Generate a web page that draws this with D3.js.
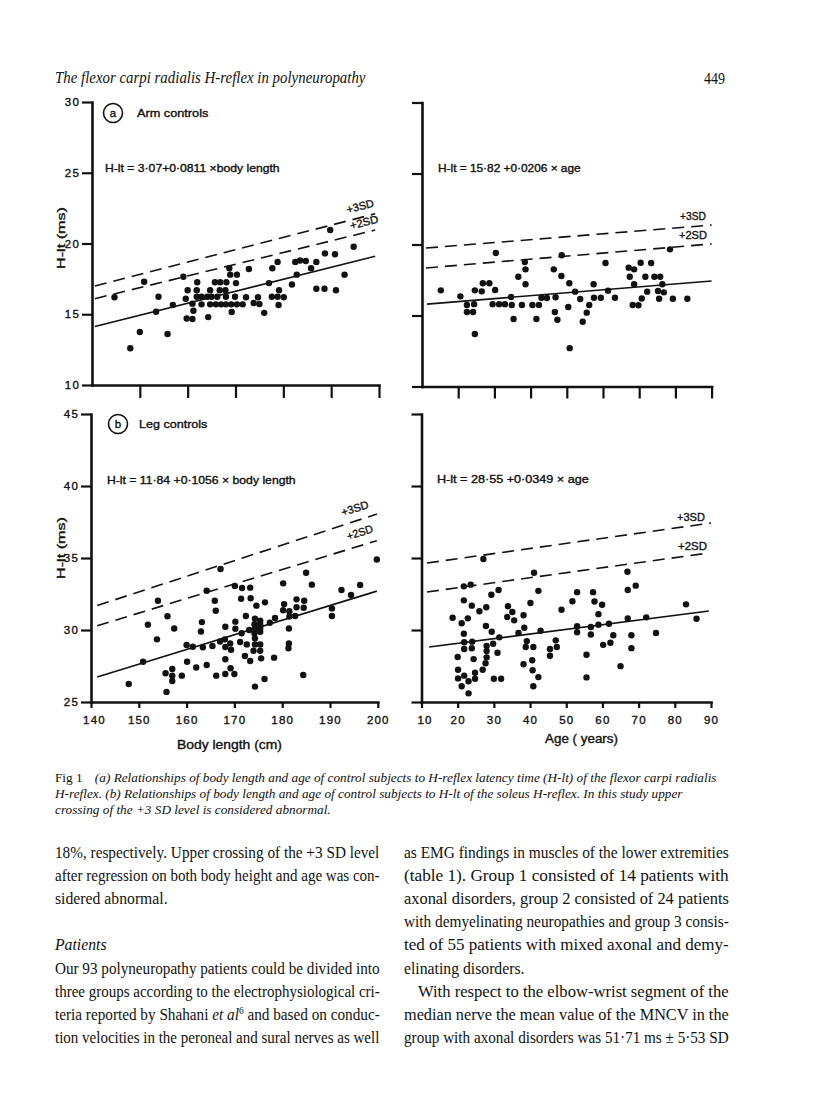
<!DOCTYPE html>
<html><head><meta charset="utf-8">
<script src="https://cdn.jsdelivr.net/npm/d3@7"></script>
<style>html,body{margin:0;padding:0;background:#fff;}</style>
</head><body>
<script>
// ---------------- DATA ----------------
// Panel a (arm controls): body length vs H-lt
const armLengthPts = [[189.8,20.95],[194.7,19.77],[188.7,19.3],[190.8,19.24],[192.8,17.8],[186.9,16.8],[188.6,16.8],[191.0,16.7],
[182.5,18.7],[183.5,18.8],[184.7,18.76],[186.9,18.7],[185.8,18.25],[182.8,17.8],[181.8,17.1],
[178.8,18.7],[177.7,18.25],[177.0,17.2],[179.1,16.7],[177.6,16.24],[178.8,16.24],[180.1,16.2],[179.0,15.65],
[172.8,18.2],[174.7,16.2],[173.8,15.8],[175.0,15.72],[176.0,15.1],[172.2,16.2],
[168.7,18.25],[168.9,17.8],[170.3,17.8],[170.1,17.2],
[165.7,17.26],[166.8,17.26],[168.1,17.26],[164.7,16.7],[166.7,16.7],[167.9,16.7],[162.0,17.26],[161.9,16.7],[160.0,16.7],
[161.9,16.24],[162.9,16.24],[164.1,16.24],[165.0,16.24],[166.2,16.24],[168.0,16.24],[169.9,16.24],[159.6,16.1],
[161.0,15.75],[162.9,15.7],[164.7,15.7],[165.9,15.7],[167.0,15.7],[168.0,15.7],[169.1,15.7],[170.3,15.7],[171.5,15.7],
[161.2,15.25],[159.8,14.7],[161.0,14.66],[164.3,14.8],[169.2,15.16],[159.1,17.65],[156.9,15.65],[153.4,15.18],[153.9,16.24],
[150.9,17.3],[144.7,16.2],[150.0,13.75],[155.8,13.6],[148.0,12.6]];
// Panel a: age vs H-lt
const armAgePts = [[15.2,16.77],[20.6,16.35],[22.4,15.74],[22.4,15.25],[24.1,15.25],[24.4,15.8],[24.6,16.77],[24.6,13.7],[26.5,16.7],
[26.8,17.27],[28.6,17.27],[30.4,19.4],[30.2,16.8],[29.5,15.8],[31.3,15.8],[32.9,15.8],[34.6,16.3],[34.8,15.74],[35.3,14.75],
[36.6,17.73],[38.4,18.77],[38.6,18.25],[38.6,17.2],[37.6,15.74],[40.5,15.74],[42.3,15.74],[41.6,14.75],[43.0,16.25],[44.5,16.23],
[46.4,18.25],[48.6,19.24],[48.5,17.78],[46.9,16.28],[46.7,15.25],[47.4,14.7],[50.7,17.27],[50.4,15.6],[52.3,16.68],[53.7,16.16],
[56.2,15.74],[55.5,15.2],[54.4,14.56],[50.8,12.7],[57.4,17.2],[57.5,16.25],[59.4,16.25],[60.7,18.7],[61.4,16.75],[63.3,16.25],
[67.1,18.37],[68.6,18.25],[67.4,17.73],[68.6,17.2],[70.4,18.72],[71.7,17.73],[73.3,18.7],[74.2,17.73],[75.8,17.73],[72.2,16.68],
[75.2,16.73],[76.4,17.2],[76.8,16.63],[70.7,16.2],[68.2,15.74],[69.8,15.72],[75.5,16.18],[78.5,19.66],[79.3,16.18],[83.3,16.18]];
// Panel b (leg controls): body length vs H-lt
const legLengthPts = [[199.8,34.9],[167.1,34.24],[164.2,32.73],[154.0,32.03],[156.0,30.95],[151.9,30.37],[157.4,30.1],[153.8,29.35],
[150.9,27.8],[147.9,26.25],[155.6,27.0],[157.0,27.3],[157.0,26.83],[157.0,26.46],[155.8,25.7],[159.0,26.83],[160.1,27.8],[160.0,28.96],
[161.3,28.84],[162.0,27.4],[163.2,30.55],[163.0,29.9],[163.4,28.8],[164.2,27.57],[165.4,28.89],[165.9,32.03],[166.1,31.34],[166.2,26.83],
[167.0,29.2],[168.0,29.35],[168.1,28.82],[168.1,30.23],[168.1,27.97],[169.1,29.07],[169.3,28.63],[169.2,27.34],[168.1,26.94],[170.0,26.94],
[170.1,33.06],[170.2,30.58],[170.2,30.09],[171.6,32.92],[171.4,32.17],[171.5,29.77],[171.2,29.17],[172.4,30.97],[172.6,29.0],[172.2,28.19],
[173.3,32.94],[173.4,32.2],[174.3,30.79],[175.4,30.65],[174.2,30.4],[175.4,30.4],[174.3,30.12],[175.4,30.12],[173.1,30.0],[174.2,29.77],
[175.4,29.88],[174.3,29.42],[174.3,29.0],[175.4,29.0],[174.0,28.56],[175.4,28.56],[175.6,28.03],[173.3,27.85],[174.3,26.07],[176.3,26.6],
[174.6,31.69],[176.4,31.92],[177.4,30.5],[178.5,30.83],[178.3,28.08],[180.2,33.24],[180.4,31.8],[180.2,31.37],[181.5,31.3],[181.5,30.93],
[181.4,30.1],[181.4,29.07],[181.3,28.73],[183.0,32.13],[183.0,31.58],[182.7,30.97],[184.6,32.03],[184.5,31.55],[184.4,26.88],[185.0,33.98],
[186.2,33.15],[190.4,31.5],[190.4,30.97],[192.4,32.78],[194.4,32.43],[196.3,33.13]];
// Panel b: age vs H-lt
const legAgePts = [[27.1,34.93],[41.1,33.98],[66.9,34.05],[69.2,33.08],[67.0,32.78],[21.7,33.03],[23.6,33.15],[29.3,32.45],[31.3,32.78],
[21.7,32.06],[23.9,31.69],[26.0,31.3],[27.9,31.58],[18.6,30.85],[21.1,30.47],[22.8,30.81],[27.8,30.28],[29.4,29.88],[21.7,29.74],
[21.8,29.15],[24.0,29.19],[21.8,28.68],[23.9,28.73],[20.0,28.12],[24.4,27.98],[20.1,27.24],[20.1,26.64],[21.8,26.83],[21.1,26.09],
[23.0,26.44],[23.0,25.6],[24.8,27.03],[24.8,26.61],[28.0,28.9],[28.0,28.54],[28.0,28.1],[27.7,27.69],[26.9,27.24],[29.8,29.05],
[31.0,28.42],[31.5,29.49],[30.0,26.61],[32.0,26.61],[33.9,31.65],[33.7,30.9],[35.1,31.25],[35.6,30.67],[36.8,29.8],[38.2,31.02],
[38.4,30.16],[40.1,31.87],[42.3,32.72],[39.1,29.23],[38.8,28.82],[40.9,28.82],[38.2,27.62],[40.6,27.9],[40.7,27.2],[42.3,26.73],
[40.9,26.09],[42.9,29.95],[45.5,28.68],[45.5,28.21],[47.1,29.28],[47.4,28.82],[48.7,31.41],[51.7,32.0],[53.0,32.63],[53.0,30.26],
[53.0,29.84],[55.6,28.28],[55.6,26.71],[56.8,30.21],[56.8,29.69],[57.4,32.63],[57.8,31.98],[59.9,31.75],[58.9,31.1],[58.9,30.36],
[61.8,30.43],[60.2,28.97],[62.2,29.11],[63.0,29.64],[65.0,27.49],[67.0,30.81],[68.0,29.64],[68.0,28.74],[72.1,30.88],[74.8,29.79],
[83.1,31.78],[86.0,30.78]];

// Regression and SD lines (end points)
const armLengthFit = [[140.6,14.14],[199.2,19.1]];
const armLength2SD = [[140.6,16.1],[199.2,20.95]];
const armLength3SD = [[140.6,17.0],[199.2,22.1]];
const armAgeFit = [[11.4,15.8],[90,17.43]];
const armAge2SD = [[11.1,18.35],[90,20.04]];
const armAge3SD = [[11.1,19.75],[90,21.37]];
const legLengthFit = [[141.3,26.74],[199.8,32.7]];
const legLength2SD = [[141.3,30.3],[199.8,36.2]];
const legLength3SD = [[141.3,31.7],[199.8,38.05]];
const legAgeFit = [[12.1,28.82],[89.4,31.32]];
const legAge2SD = [[11.5,32.64],[89.4,35.35]];
const legAge3SD = [[11.5,34.65],[90,37.43]];

// Ticks
const armYTicks = [10,15,20,25,30];
const legYTicks = [25,30,35,40,45];
const lengthTicks = [140,150,160,170,180,190,200];
const ageTicks = [10,20,30,40,50,60,70,80,90];

const equations = ["H-lt = 3·07+0·0811 ×body length","H-lt = 15·82 +0·0206 × age",
                   "H-lt = 11·84 +0·1056 × body length","H-lt = 28·55 +0·0349 × age"];

// ---------------- DRAWING ----------------
const W = 816, H = 1110;
const INK = "#111";
const SANS = "'Liberation Sans', Arial, sans-serif";
const SERIF = "'Liberation Serif', 'Times New Roman', serif";
const svg = d3.select("body").append("svg").attr("width", W).attr("height", H)
  .style("background", "#fff");
svg.append("rect").attr("width", W).attr("height", H).attr("fill", "#fff");

function fitScale(sel, x, y, s, anchor, width) {
  let x0 = x;
  if (anchor === "end") x0 = x - width;
  if (anchor === "middle") x0 = x - width / 2;
  sel.attr("x", 0).attr("y", 0).attr("transform", `translate(${x0},${y}) scale(${s},1)`);
}
function fit(sel, x, y, width, anchor) {
  const w = sel.node().getBBox().width;
  fitScale(sel, x, y, width / w, anchor, width);
  return width / w;
}
function embolden(t) { t.attr("stroke", INK).attr("stroke-width", 0.35); return t; }
function label(txt, x, y, width, size, opts = {}) {
  const t = svg.append("text").text(txt).attr("font-family", opts.family || SANS)
    .attr("font-size", size).attr("fill", INK);
  if (opts.italic) t.attr("font-style", "italic");
  if (!opts.family) embolden(t);
  fit(t, x, y, width, opts.anchor || "start");
  return t;
}
function rotLabel(txt, cx, cy, width, size, angle) {
  const t = svg.append("text").text(txt).attr("font-family", SANS).attr("font-size", size)
    .attr("fill", INK).attr("text-anchor", "middle");
  embolden(t);
  const w = t.node().getBBox().width;
  t.attr("transform", `translate(${cx},${cy}) rotate(${angle}) scale(${width / w},1)`);
}

function panel(cfg) {
  const x = d3.scaleLinear().domain(cfg.xd).range(cfg.xr);
  const y = d3.scaleLinear().domain(cfg.yd).range(cfg.yr);
  const g = svg.append("g");
  const ya = d3.axisLeft(y).tickValues(cfg.yTicks).tickSize(10).tickSizeOuter(0).tickPadding(2)
    .tickFormat(cfg.yLabels ? d3.format("d") : "");
  const yg = g.append("g").attr("transform", `translate(${cfg.xr[0]},0)`).call(ya);
  const xa = d3.axisBottom(x).tickValues(cfg.xTicks).tickSize(cfg.xTickLen).tickSizeOuter(0).tickPadding(8)
    .tickFormat(cfg.xLabels ? d3.format("d") : "");
  const xg = g.append("g").attr("transform", `translate(0,${cfg.yr[0]})`).call(xa);
  [yg, xg].forEach(a => {
    a.select(".domain").attr("stroke", INK).attr("stroke-width", 2.6).attr("stroke-linecap", "square");
    a.selectAll(".tick line").attr("stroke", INK).attr("stroke-width", 2.2);
    a.selectAll("text").attr("font-family", SANS).attr("font-size", 11.5).attr("fill", INK)
      .attr("letter-spacing", 1.2).attr("stroke", INK).attr("stroke-width", 0.35);
  });
  if (cfg.xLabels) {
    xg.selectAll(".tick text").attr("dy", "0.72em").attr("font-size", 11.5);
    xg.selectAll(".tick").filter(d => d === cfg.xTicks[0]).select("text").attr("dx", 3);
  }
  const line = d3.line().x(d => x(d[0])).y(d => y(d[1]));
  g.append("path").datum(cfg.fit).attr("d", line).attr("fill", "none").attr("stroke", INK).attr("stroke-width", 1.6);
  g.append("path").datum(cfg.sd2).attr("d", line).attr("fill", "none").attr("stroke", INK)
    .attr("stroke-width", 1.6).attr("stroke-dasharray", "12,7");
  g.append("path").datum(cfg.sd3).attr("d", line).attr("fill", "none").attr("stroke", INK)
    .attr("stroke-width", 1.6).attr("stroke-dasharray", "12,7");
  g.append("g").selectAll("circle").data(cfg.pts).join("circle")
    .attr("cx", d => x(d[0])).attr("cy", d => y(d[1])).attr("r", 3.2).attr("fill", INK);
}

panel({xd:[140,200], xr:[92,379], yd:[10,30], yr:[385,102], yTicks:armYTicks, yLabels:true,
  xTicks:lengthTicks.slice(1), xTickLen:13, xLabels:false, pts:armLengthPts,
  fit:armLengthFit, sd2:armLength2SD, sd3:armLength3SD});
panel({xd:[10,90], xr:[422,711.6], yd:[10,30], yr:[386.5,102.5], yTicks:armYTicks, yLabels:false,
  xTicks:ageTicks.slice(1), xTickLen:12, xLabels:false, pts:armAgePts,
  fit:armAgeFit, sd2:armAge2SD, sd3:armAge3SD});
panel({xd:[140,200], xr:[91,377.8], yd:[25,45], yr:[702,414], yTicks:legYTicks, yLabels:true,
  xTicks:lengthTicks, xTickLen:6, xLabels:true, pts:legLengthPts,
  fit:legLengthFit, sd2:legLength2SD, sd3:legLength3SD});
panel({xd:[10,90], xr:[421.5,711], yd:[25,45], yr:[702,414], yTicks:legYTicks, yLabels:false,
  xTicks:ageTicks, xTickLen:6, xLabels:true, pts:legAgePts,
  fit:legAgeFit, sd2:legAge2SD, sd3:legAge3SD});

// panel annotations
[[113,113,"a"],[118,424,"b"]].forEach(([cx,cy,l]) => {
  svg.append("circle").attr("cx", cx).attr("cy", cy).attr("r", 9.5).attr("fill", "none")
    .attr("stroke", INK).attr("stroke-width", 1.6);
  embolden(svg.append("text").text(l).attr("x", cx).attr("y", cy + 4).attr("text-anchor", "middle")
    .attr("font-family", SANS).attr("font-size", 11.5).attr("fill", INK));
});
label("Arm controls", 137, 117, 72, 11);
label("Leg controls", 139, 427.5, 69, 11);
label(equations[0], 105, 171.5, 175, 10.5);
label(equations[1], 438, 171.5, 143, 10.5);
label(equations[2], 107, 484, 189, 10.5);
label(equations[3], 437, 482.5, 152, 10.5);

rotLabel("+3SD", 361, 210, 28, 11, -14);
rotLabel("+2SD", 365, 226, 29, 11, -14);
rotLabel("+3SD", 356, 512, 28, 11, -18);
rotLabel("+2SD", 361, 536, 27, 11, -18);
label("+3SD", 680, 220, 26, 11);
label("+2SD", 679, 239, 28, 11);
label("+3SD", 677, 521, 28, 11);
label("+2SD", 678, 550, 29, 11);

// y axis titles
["H-lt (ms)","H-lt (ms)"].forEach((t, i) => {
  const cy = i === 0 ? 238 : 548;
  const el = svg.append("text").text(t).attr("font-family", SANS).attr("font-size", 11)
    .attr("fill", INK).attr("text-anchor", "middle");
  embolden(el);
  const w = el.node().getBBox().width;
  el.attr("transform", `translate(65,${cy}) rotate(-90) scale(${62 / w},1)`);
});
label("Body length (cm)", 177, 749, 105, 12);
label("Age ( years)", 545, 743, 73, 12);

// ---------------- PAGE TEXT ----------------
label("The flexor carpi radialis H-reflex in polyneuropathy", 55, 83, 311, 17, {family: SERIF, italic: true});
label("449", 725, 84, 21, 16, {family: SERIF, anchor: "end"});

function richText(parts, size) {
  const t = svg.append("text").attr("font-family", SERIF).attr("font-size", size).attr("fill", INK);
  parts.forEach(p => {
    const s = t.append("tspan").text(p.t);
    if (p.it) s.attr("font-style", "italic");
    if (p.dx) s.attr("dx", p.dx);
    if (p.dy) s.attr("dy", p.dy);
    if (p.fs) s.attr("font-size", p.fs);
  });
  return t;
}

// caption (ragged right, one common horizontal compression)
const cap1 = richText([{t:"Fig 1"},{t:"(a) Relationships of body length and age of control subjects to H-reflex latency time (H-lt) of the flexor carpi radialis", it:true, dx:12}], 13);
const capScale = fit(cap1, 55, 782, 662, "start");
const cap2 = richText([{t:"H-reflex. (b) Relationships of body length and age of control subjects to H-lt of the soleus H-reflex. In this study upper", it:true}], 13);
fitScale(cap2, 55, 798, capScale, "start");
const cap3 = richText([{t:"crossing of the +3 SD level is considered abnormal.", it:true}], 13);
fitScale(cap3, 55, 814, capScale, "start");

// body text columns (justified lines stretched to the column, others use the mean compression)
const colL = 55, colR = 404, colW = 325;
const leftCol = [
  [[{t:"18%, respectively. Upper crossing of the +3 SD level"}], true, 0],
  [[{t:"after regression on both body height and age was con-"}], true, 0],
  [[{t:"sidered abnormal."}], false, 0],
  null,
  [[{t:"Patients", it:true}], false, 0],
  [[{t:"Our 93 polyneuropathy patients could be divided into"}], true, 0],
  [[{t:"three groups according to the electrophysiological cri-"}], true, 0],
  [[{t:"teria reported by Shahani "},{t:"et al", it:true},{t:"6", dy:-6, fs:10},{t:" and based on conduc-", dy:6}], true, 0],
  [[{t:"tion velocities in the peroneal and sural nerves as well"}], true, 0]
];
const rightCol = [
  [[{t:"as EMG findings in muscles of the lower extremities"}], true, 0],
  [[{t:"(table 1). Group 1 consisted of 14 patients with"}], true, 0],
  [[{t:"axonal disorders, group 2 consisted of 24 patients"}], true, 0],
  [[{t:"with demyelinating neuropathies and group 3 consis-"}], true, 0],
  [[{t:"ted of 55 patients with mixed axonal and demy-"}], true, 0],
  [[{t:"elinating disorders."}], false, 0],
  [[{t:"With respect to the elbow-wrist segment of the"}], true, 14],
  [[{t:"median nerve the mean value of the MNCV in the"}], true, 0],
  [[{t:"group with axonal disorders was 51·71 ms ± 5·53 SD"}], true, 0]
];
const scales = [];
const pending = [];
[[leftCol, colL], [rightCol, colR]].forEach(([col, x0]) => {
  col.forEach((ln, i) => {
    if (!ln) return;
    const t = richText(ln[0], 16);
    const y = 858 + i * 23.1;
    if (ln[1]) {
      scales.push(fit(t, x0 + ln[2], y, colW - ln[2], "start"));
    } else {
      pending.push([t, x0 + ln[2], y]);
    }
  });
});
const meanScale = d3.mean(scales);
pending.forEach(([t, x, y]) => fitScale(t, x, y, meanScale, "start"));
</script>
</body></html>
